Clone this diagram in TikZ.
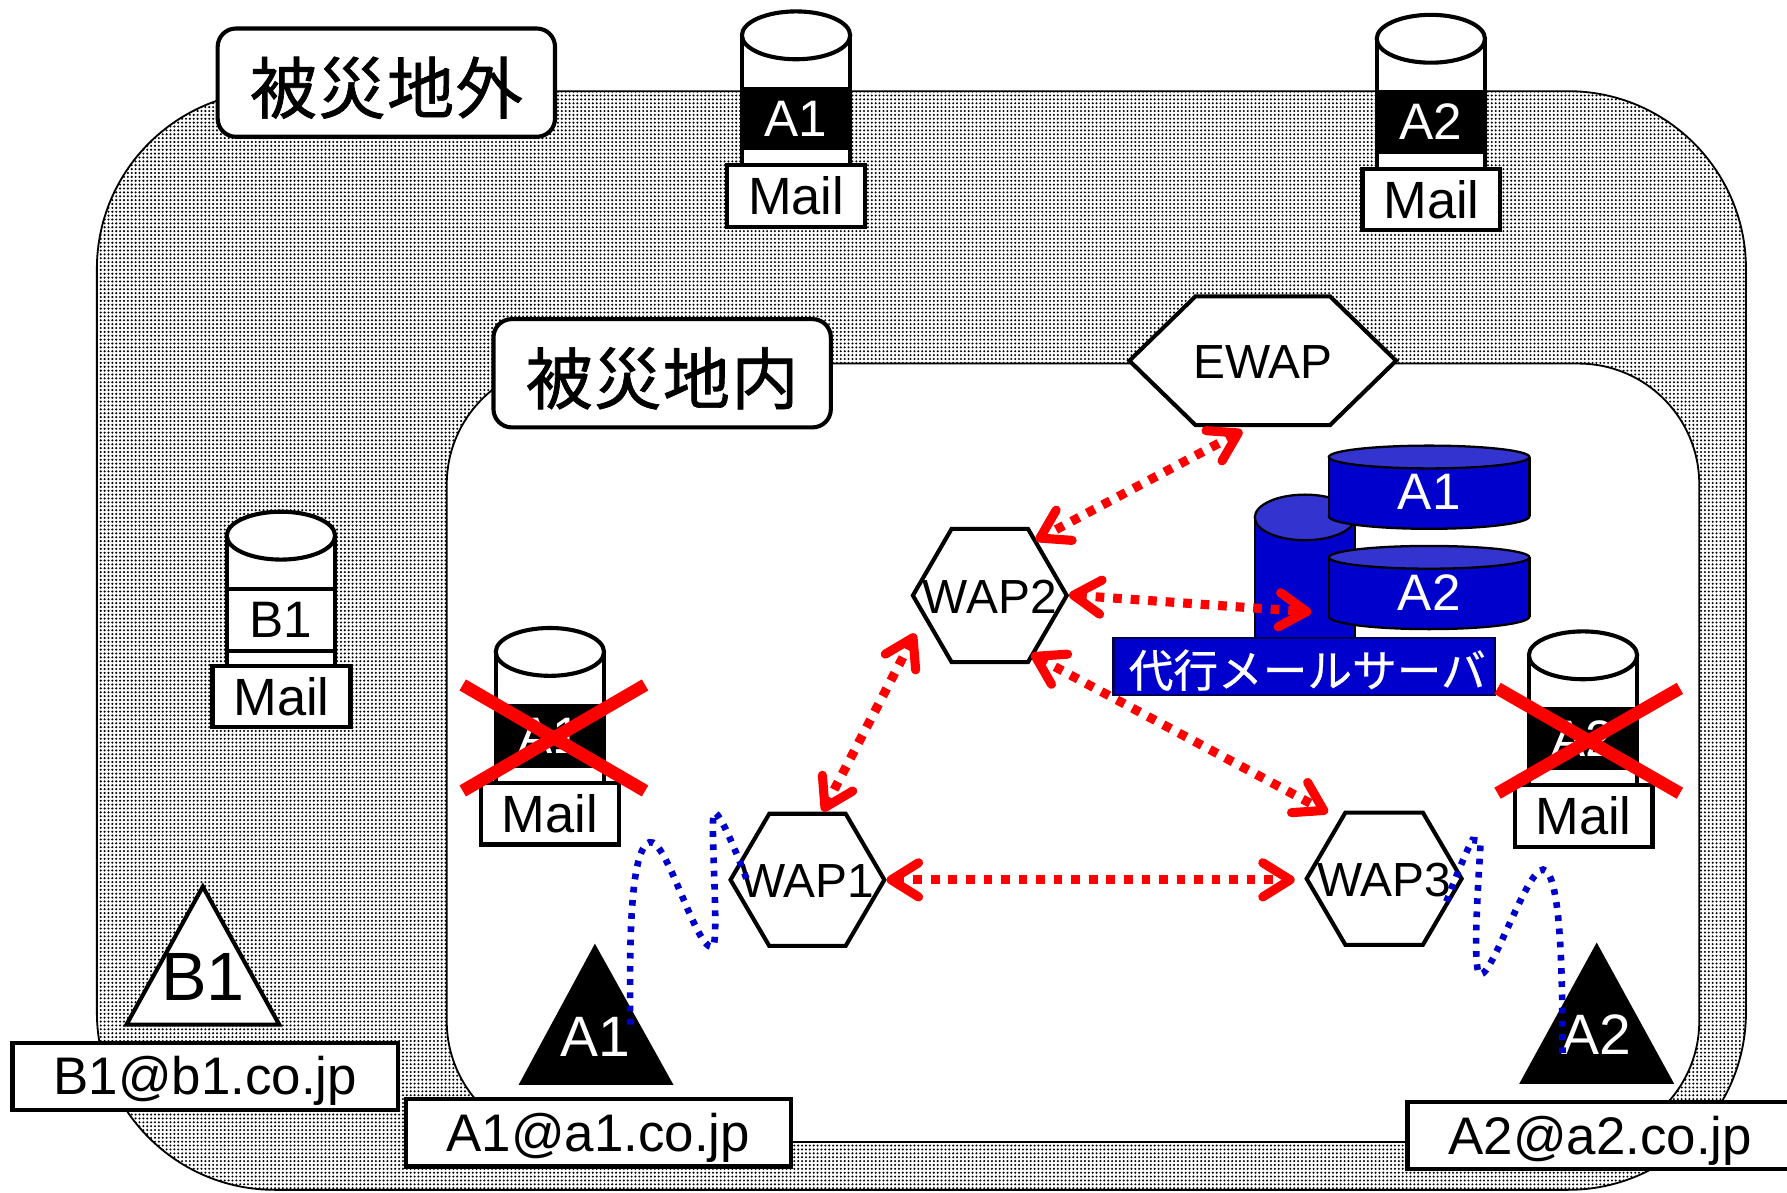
\documentclass[tikz,border=0pt]{standalone}
\usepackage{fontspec}
\setmainfont{Liberation Sans}
\newfontfamily\cjk[FakeBold=0.6]{Noto Sans CJK JP}
\newfontfamily\cjksp[LetterSpace=2,FakeBold=1]{Noto Sans CJK JP}
\usetikzlibrary{arrows.meta,calc,patterns.meta}
\definecolor{srvblue}{HTML}{0000CC}
\definecolor{srvtop}{HTML}{3333D0}
\tikzset{
  x=0.5pt,y=-0.5pt,
  zone/.style={draw=black,line width=0.8pt,preaction={fill=white},pattern={Dots[distance=1.7pt,radius=0.5pt]},pattern color=black},
  inner zone/.style={draw=black,line width=0.8pt,fill=white},
  titlebox/.style={draw=black,fill=white,line width=1.8pt,rounded corners=8pt,minimum width=148pt,minimum height=47.5pt,inner sep=0pt},
  titletext/.style={inner sep=0pt,font=\cjksp\fontsize{29.5}{29.5}\selectfont},
  mailbox/.style={draw=black,fill=white,line width=1.8pt,minimum width=60.5pt,minimum height=27pt,inner sep=0pt,font=\fontsize{23}{23}\selectfont},
  addrbox/.style={draw=black,fill=white,line width=1.9pt,minimum width=169pt,minimum height=29.5pt,inner sep=0pt},
  addrtext/.style={inner sep=0pt,font=\fontsize{23.2}{23.2}\selectfont},
  band/.style={fill=black,text=white,minimum width=48pt,minimum height=28pt,inner sep=0pt,font=\fontsize{22.5}{22.5}\selectfont},
  whiteband/.style={draw=black,line width=1.8pt,fill=white,minimum width=47.5pt,minimum height=27pt,inner sep=0pt,font=\fontsize{22.5}{22.5}\selectfont},
  hexline/.style={draw=black,fill=white,line width=1.8pt,line join=miter},
  hextext/.style={inner sep=0pt,font=\fontsize{21}{21}\selectfont},
  cylline/.style={draw=black,fill=white,line width=1.8pt},
  srvline/.style={draw=black,line width=1pt},
  redlink/.style={draw=red,line width=4pt,dash pattern=on 3.8pt off 3.9pt,{Straight Barb[length=12pt,width=15pt,line width=4pt,round]}-{Straight Barb[length=12pt,width=15pt,line width=4pt,round]}},
  bluelink/.style={draw=srvblue,line width=2.9pt,dash pattern=on 2.5pt off 3.3pt},
  crossline/.style={draw=red,line width=5.6pt},
}
\newcommand{\hexnode}[7]{% name, cx, cy, half width, inset, half height, text
  \begin{scope}[shift={(#2,#3)}]
    \path[hexline] (-#4,0) -- (-#4+#5,-#6) -- (#4-#5,-#6) -- (#4,0) -- (#4-#5,#6) -- (-#4+#5,#6) -- cycle;
    \node[hextext] (#1) at (0,1) {#7};
  \end{scope}}
\newcommand{\drum}[3]{% cx, ellipse centre y, bottom y
  \begin{scope}[shift={(#1,#2)}]
    \path[cylline] (-47.5,0) -- (-47.5,#3-#2) -- (47.5,#3-#2) -- (47.5,0) -- cycle;
    \path[cylline] (0,0) ellipse [x radius=47.5,y radius=21];
  \end{scope}}
\newcommand{\disk}[3]{% cx, top y, bottom y
  \begin{scope}[shift={(#1,#2)}]
    \path[srvline,fill=srvblue] (0,#3-#2) ellipse [x radius=88,y radius=11];
    \path[fill=srvblue] (-88,0) rectangle (88,#3-#2);
    \draw[srvline] (-88,0) -- (-88,#3-#2) (88,0) -- (88,#3-#2);
    \path[srvline,fill=srvtop] (0,0) ellipse [x radius=88,y radius=10];
  \end{scope}}
\begin{document}
\begin{tikzpicture}
\useasboundingbox (0,0) rectangle (1568,1046);
% zones
\path[zone,rounded corners=78pt] (85,80) rectangle (1532,1044);
\path[inner zone,rounded corners=53pt] (392,319) rectangle (1491,1002);
% titles
\node[titlebox] (outside) at (339,72.5) {};
\node[titletext] (outsidetext) at (339,77) {被災地外};
\node[titlebox] (inside) at (581,327.5) {};
\node[titletext] (insidetext) at (581,332) {被災地内};
% top drums
\drum{698.5}{31}{150}
\node[band] (a1top) at (698.5,104) {\raisebox{-1pt}{A1}};
\node[mailbox] (mail1) at (698.5,172) {Mail};
\drum{1255.5}{34}{153}
\node[band] (a2top) at (1255.5,107) {\raisebox{-1pt}{A2}};
\node[mailbox] (mail2) at (1256,175) {Mail};
% B1 drum
\drum{246.5}{470}{590}
\node[whiteband] (b1db) at (246.5,544) {\raisebox{-0.5pt}{B1}};
\node[mailbox] (mail3) at (247,611) {Mail};
% server
\path[srvline,fill=srvblue] (1101,454) -- (1101,565) -- (1189,565) -- (1189,454) -- cycle;
\path[srvline,fill=srvtop] (1145,454) ellipse [x radius=44,y radius=20];
\disk{1254}{401}{453}
\node[text=white,inner sep=0pt,font=\fontsize{22.5}{22.5}\selectfont] (srv1) at (1254,432) {A1};
\disk{1254}{489}{541}
\node[text=white,inner sep=0pt,font=\fontsize{22.5}{22.5}\selectfont] (srv2) at (1254,520) {A2};
\node[draw=black!60!srvblue,line width=1pt,fill=srvblue,minimum width=167.5pt,minimum height=25pt,inner sep=0pt] (proxy) at (1144.5,585) {};
\node[text=white,inner sep=0pt,font=\cjk\fontsize{19.6}{19.6}\selectfont] (proxytext) at (1147,588) {代行メールサーバ};
% inner drums
\drum{482.5}{572}{692}
\node[band] (a1in) at (482.5,646) {\raisebox{-1pt}{A1}};
\node[mailbox] (mail4) at (482.5,714) {Mail};
\drum{1389}{575}{695}
\node[band] (a2in) at (1389,648) {\raisebox{-1pt}{A2}};
\node[mailbox] (mail5) at (1389.5,716) {Mail};
% crosses
\draw[crossline] (406,601) -- (566,694) (566,601) -- (406,694);
\draw[crossline] (1314,604) -- (1474,696) (1474,604) -- (1314,696);
% hexagons
\hexnode{ewap}{1108}{316.5}{117}{58}{56.5}{EWAP}
\hexnode{wap2}{868.5}{522.5}{67.5}{34}{58.5}{WAP2}
\hexnode{wap1}{708.5}{772}{67.5}{34}{58}{WAP1}
\hexnode{wap3}{1214.5}{771}{68}{34}{58}{WAP3}
% users
\path[draw=black,line width=1.8pt,fill=white,line join=miter] (178,778) -- (245,899) -- (111,899) -- cycle;
\node[inner sep=0pt,font=\fontsize{30}{30}\selectfont] (b1user) at (178,857) {B1};
\path[fill=black] (522,828) -- (591,952) -- (455,952) -- cycle;
\node[text=white,inner sep=0pt,font=\fontsize{25}{25}\selectfont] (a1user) at (522,910) {A1};
\path[fill=black] (1401,827) -- (1469,951) -- (1333,951) -- cycle;
\node[text=white,inner sep=0pt,font=\fontsize{25}{25}\selectfont] (a2user) at (1401,908) {A2};
% addresses
\node[addrbox] (b1addr) at (180,944.5) {};
\node[addrtext] (b1addrtext) at (180,948) {B1@b1.co.jp};
\node[addrbox] (a1addr) at (525,994) {};
\node[addrtext] (a1addrtext) at (525,998) {A1@a1.co.jp};
\path[draw=black,fill=white,line width=1.9pt] (1235,967) rectangle (1580,1026);
\node[addrtext] (a2addr) at (1404,1001) {A2@a2.co.jp};
% red links
\draw[redlink] ($(ewap)+(-18,60.5)$) -- ($(wap2)+(40.5,-49.5)$);
\draw[redlink] ($(wap2)+(69.5,-1.5)$) -- ($(proxy)+(6,-48)$);
\draw[redlink] ($(wap2)+(36.5,50.5)$) -- ($(wap3)+(-49.5,-59)$);
\draw[redlink] ($(wap2)+(-65.5,32.5)$) -- ($(wap1)+(13.5,-61)$);
\draw[redlink] ($(wap1)+(69.5,-1)$) -- ($(wap3)+(-78.5,0)$);
% radio links
\draw[bluelink] ($(a1user)+(31,-11)$) .. controls ($(a1user)+(31,-50)$) and ($(a1user)+(28,-165)$) .. ($(wap1)+(-138.5,-34)$) .. controls ($(wap1)+(-123.5,-38)$) and ($(wap1)+(-98.5,59)$) .. ($(wap1)+(-83.5,58)$) .. controls ($(wap1)+(-76.5,57)$) and ($(wap1)+(-86.5,-61)$) .. ($(wap1)+(-81.5,-60)$) .. controls ($(wap1)+(-76.5,-59)$) and ($(wap1)+(-63.5,-28)$) .. ($(wap1)+(-53.5,-2)$);
\draw[bluelink] ($(a2user)+(-30,16)$) .. controls ($(a2user)+(-30,-48)$) and ($(a2user)+(-31,-143)$) .. ($(a2user)+(-47,-145)$) .. controls ($(a2user)+(-61,-146)$) and ($(a2user)+(-91,-53)$) .. ($(a2user)+(-102,-53)$) .. controls ($(a2user)+(-111,-53)$) and ($(a2user)+(-101,-170)$) .. ($(a2user)+(-102,-170)$) -- ($(a2user)+(-109,-171)$) .. controls ($(a2user)+(-115,-160)$) and ($(a2user)+(-125,-135)$) .. ($(wap3)+(53.5,22)$);
\end{tikzpicture}
\end{document}
